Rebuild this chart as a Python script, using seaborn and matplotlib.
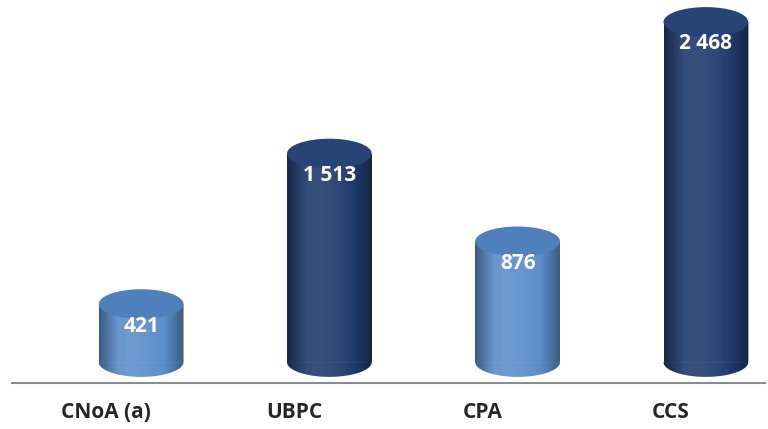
"""
Cylinder bar chart: CNoA / UBPC / CPA / CCS
"""

import numpy as np
import pandas as pd
import matplotlib
matplotlib.use("Agg")
import matplotlib.pyplot as plt
import matplotlib.transforms as mtransforms
from matplotlib.patches import Ellipse, Polygon
import seaborn as sns

# data
categories = ["CNoA (a)", "UBPC", "CPA", "CCS"]
values = [421, 1513, 876, 2468]
body_colors = ["#5b8dc8", "#203b6d", "#5b8dc8", "#203b6d"]
cap_colors = ["#4f80bb", "#284477", "#4f80bb", "#284477"]

df = pd.DataFrame({"cat": categories, "val": values})

sns.set_style("white")
plt.rcParams["font.family"] = ["Open Sans", "DejaVu Sans"]

fig = plt.figure(figsize=(7.68, 4.29), dpi=100)
ax = fig.add_axes([12 / 768, 46 / 429, 753 / 768, 383 / 429])

sns.barplot(data=df, x="cat", y="val", hue="cat", palette=body_colors,
            width=0.45, legend=False, ax=ax, saturation=1)

ax.set_xlim(-0.5, 3.5)
ax.set_ylim(-152, 2627)

# depth shift of the 3D look
shift = mtransforms.ScaledTranslation(35 / 100, 0, fig.dpi_scale_trans)
trans = ax.transData + shift
cap_h = 215  # ellipse height in data units

# horizontal shading: slightly lighter left of centre, darker edges
g = np.linspace(-1, 1, 200)
light = np.clip(0.10 * (1 - ((g + 0.25) / 0.8) ** 2), 0, None)
dark = np.clip(0.35 * (np.abs(g) - 0.55) / 0.45, 0, None)

rgba_l = np.zeros((2, len(g), 4))
rgba_l[..., :3] = 1
rgba_l[..., 3] = light
rgba_d = np.zeros((2, len(g), 4))
rgba_d[..., 3] = dark

theta = np.linspace(np.pi, 2 * np.pi, 60)

for i, bar in enumerate(ax.patches):
    x0 = bar.get_x()
    w = bar.get_width()
    h = bar.get_height()
    xc = x0 + w / 2
    z = bar.get_zorder()
    bar.set_transform(trans)
    bar.set_edgecolor("none")

    # bottom half-ellipse
    pts = np.column_stack([xc + w / 2 * np.cos(theta),
                           cap_h / 2 * np.sin(theta)])
    bottom = Polygon(pts, closed=True, facecolor=body_colors[i],
                     edgecolor="none", transform=trans, zorder=z - 0.1)
    ax.add_patch(bottom)

    # shading overlays on body and bottom half-ellipse
    for clip in (plt.Rectangle((x0, 0), w, h, transform=trans), bottom):
        for rgba in (rgba_l, rgba_d):
            im = ax.imshow(rgba, extent=(x0, x0 + w, -cap_h / 2, h),
                           aspect="auto", zorder=z + 0.05, transform=trans,
                           interpolation="bilinear")
            im.set_clip_path(clip)

    # top cap
    ax.add_patch(Ellipse((xc, h), w, cap_h, facecolor=cap_colors[i],
                         edgecolor="none", transform=trans, zorder=z + 0.2))

    label = f"{values[i]:,}".replace(",", " ")
    ax.text(xc, h - 160, label, ha="center", va="center", color="white",
            fontsize=15, fontweight="bold", transform=trans, zorder=5)

ax.set_xlim(-0.5, 3.5)
ax.set_ylim(-152, 2627)

for s in ["top", "right", "left"]:
    ax.spines[s].set_visible(False)
ax.spines["bottom"].set_color("#8c8c8c")
ax.spines["bottom"].set_linewidth(1.5)
ax.set_yticks([])
ax.set_xlabel("")
ax.set_ylabel("")
ax.set_xticks(range(len(categories)))
ax.set_xticklabels(categories, fontsize=15, fontweight="bold")
ax.set_xticks(np.arange(-0.5, len(categories), 1), minor=True)
ax.tick_params(axis="x", which="major", length=0, pad=14)
ax.tick_params(axis="x", which="minor", length=6, width=1.5, color="#8c8c8c",
               direction="out")

fig.savefig("out.png", dpi=100)
